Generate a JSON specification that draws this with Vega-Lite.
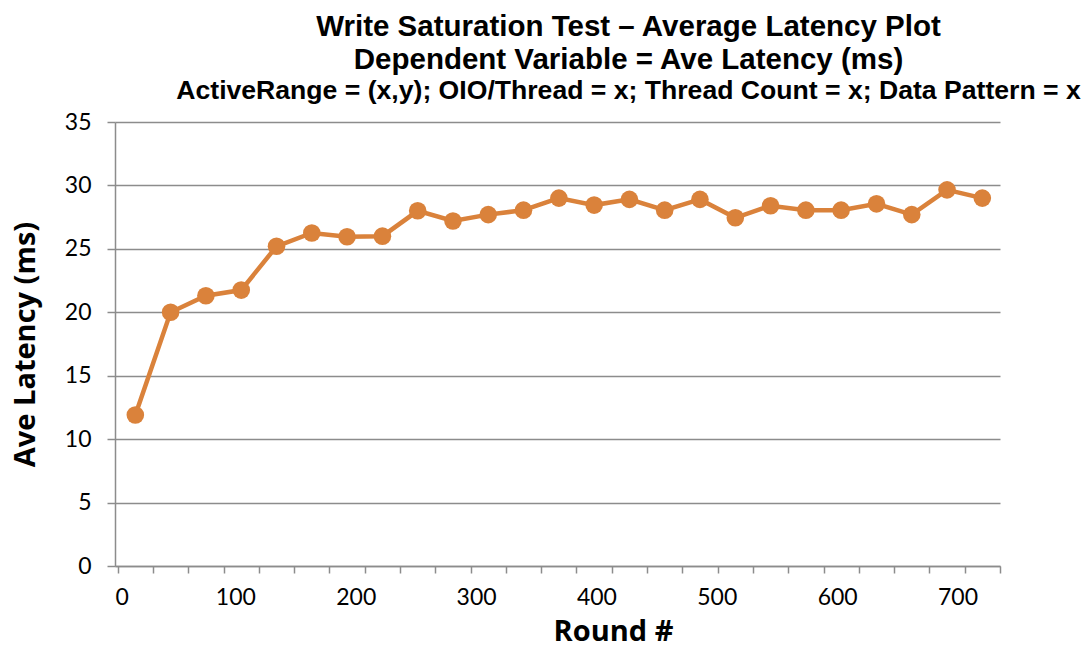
{
  "$schema": "https://vega.github.io/schema/vega-lite/v6.json",
  "width": 885,
  "height": 444,
  "autosize": {"type": "none"},
  "padding": {"left": 115, "top": 122, "right": 84, "bottom": 81},
  "background": "white",
  "title": {
    "text": ["Write Saturation Test – Average Latency Plot", "Dependent Variable = Ave Latency (ms)"],
    "subtitle": "ActiveRange = (x,y); OIO/Thread = x; Thread Count = x; Data Pattern = x",
    "font": "Liberation Sans",
    "fontSize": 29.5,
    "fontWeight": "bold",
    "lineHeight": 33,
    "color": "black",
    "subtitleFont": "Liberation Sans",
    "subtitleFontSize": 26.6,
    "subtitleFontWeight": "bold",
    "subtitleColor": "black",
    "subtitlePadding": 3,
    "anchor": "middle",
    "dx": 71,
    "offset": 5
  },
  "config": {
    "view": {"stroke": null},
    "axis": {
      "labelFont": "Lato",
      "labelFontSize": 23,
      "labelColor": "black",
      "titleFont": "Open Sans",
      "titleFontSize": 29,
      "titleFontWeight": "bold",
      "titleColor": "black",
      "domainColor": "#8c8c8c",
      "domainWidth": 1.5,
      "tickColor": "#8c8c8c",
      "tickWidth": 1.5,
      "gridColor": "#8c8c8c",
      "gridWidth": 1.5
    }
  },
  "data": {
    "values": [
      {"round": 16.9, "latency": 11.9},
      {"round": 46.2, "latency": 20.0},
      {"round": 75.5, "latency": 21.3},
      {"round": 104.9, "latency": 21.75},
      {"round": 134.2, "latency": 25.2},
      {"round": 163.5, "latency": 26.25},
      {"round": 192.8, "latency": 25.95},
      {"round": 222.2, "latency": 26.0},
      {"round": 251.5, "latency": 28.0},
      {"round": 280.8, "latency": 27.2},
      {"round": 310.1, "latency": 27.7},
      {"round": 339.4, "latency": 28.05},
      {"round": 368.8, "latency": 29.0},
      {"round": 398.1, "latency": 28.45},
      {"round": 427.4, "latency": 28.9},
      {"round": 456.7, "latency": 28.05},
      {"round": 486.0, "latency": 28.9},
      {"round": 515.4, "latency": 27.45},
      {"round": 544.7, "latency": 28.4},
      {"round": 574.0, "latency": 28.05},
      {"round": 603.3, "latency": 28.05},
      {"round": 632.7, "latency": 28.55},
      {"round": 662.0, "latency": 27.7},
      {"round": 691.3, "latency": 29.65},
      {"round": 720.6, "latency": 29.0}
    ]
  },
  "resolve": {"axis": {"x": "independent"}},
  "layer": [
    {
      "mark": {"type": "line", "color": "#DA823B", "strokeWidth": 4.5},
      "encoding": {
        "x": {
          "field": "round",
          "type": "quantitative",
          "scale": {"domain": [0, 735.3], "nice": false, "zero": false},
          "axis": {
            "orient": "bottom",
            "values": [2.2, 31.6, 60.9, 90.2, 119.5, 148.9, 178.2, 207.5, 236.8, 266.1, 295.5, 324.8, 354.1, 383.4, 412.8, 442.1, 471.4, 500.7, 530.0, 559.3, 588.7, 618.0, 647.3, 676.6, 706.0, 735.3],
            "labels": false,
            "grid": false,
            "tickSize": 7,
            "title": null
          }
        },
        "y": {
          "field": "latency",
          "type": "quantitative",
          "scale": {"domain": [0, 35], "nice": false},
          "axis": {
            "values": [0, 5, 10, 15, 20, 25, 30, 35],
            "grid": true,
            "tickSize": 8,
            "labelPadding": 16,
            "title": "Ave Latency (ms)",
            "titleX": -90,
            "titleY": 222,
            "titleBaseline": "middle",
            "titleAngle": -90
          }
        }
      }
    },
    {
      "mark": {"type": "point", "filled": true, "opacity": 1, "color": "#DA823B", "size": 310, "shape": "circle"},
      "encoding": {
        "x": {
          "field": "round",
          "type": "quantitative",
          "scale": {"domain": [0, 735.3], "nice": false, "zero": false},
          "axis": {
            "orient": "bottom",
            "values": [0, 100, 200, 300, 400, 500, 600, 700],
            "ticks": false,
            "tickSize": 0,
            "domain": false,
            "grid": false,
            "labelPadding": 20,
            "title": "Round #",
            "titleX": 498,
            "titleY": 74,
            "titleBaseline": "alphabetic"
          }
        },
        "y": {"field": "latency", "type": "quantitative"}
      }
    }
  ]
}
